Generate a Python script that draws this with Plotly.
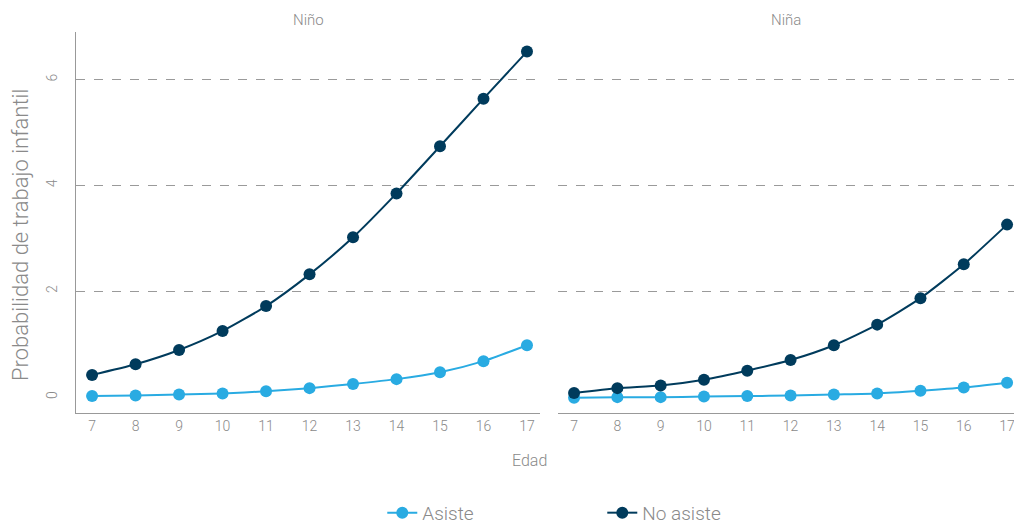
import plotly.graph_objects as go

edad = [7, 8, 9, 10, 11, 12, 13, 14, 15, 16, 17]

nino_asiste = [0.02, 0.03, 0.05, 0.07, 0.11, 0.17, 0.25, 0.34, 0.47, 0.68, 0.98]
nino_no_asiste = [0.42, 0.62, 0.89, 1.25, 1.72, 2.32, 3.02, 3.85, 4.74, 5.64, 6.53]
nina_asiste = [-0.01, 0.0, 0.0, 0.01, 0.02, 0.03, 0.05, 0.07, 0.12, 0.18, 0.27]
nina_no_asiste = [0.08, 0.17, 0.22, 0.33, 0.50, 0.70, 0.98, 1.37, 1.87, 2.51, 3.26]

y_ticks = [0, 2, 4, 6]
grid_ticks = [2, 4, 6]

COLORS = {"asiste": "#29ABE2", "no_asiste": "#003B5C"}
GRAY = "#8a8a8a"
FONT = "Roboto"

fig = go.Figure()

series = [
    ("Asiste", nino_asiste, nina_asiste, COLORS["asiste"]),
    ("No asiste", nino_no_asiste, nina_no_asiste, COLORS["no_asiste"]),
]
for name, y_nino, y_nina, color in series:
    for i, (ys, xa, ya) in enumerate([(y_nino, "x", "y"), (y_nina, "x2", "y2")]):
        fig.add_trace(
            go.Scatter(
                x=edad,
                y=ys,
                mode="lines+markers",
                name=name,
                legendgroup=name,
                showlegend=(i == 0),
                line=dict(color=color, width=2, shape="spline", smoothing=0.6),
                marker=dict(color=color, size=12),
                cliponaxis=False,
                xaxis=xa,
                yaxis=ya,
            )
        )

xaxis_common = dict(
    tickvals=edad,
    showgrid=False,
    zeroline=False,
    showline=True,
    linecolor="#999999",
    linewidth=1,
    ticks="",
    ticklabeloverflow="allow",
    tickfont=dict(family=FONT, size=14, color=GRAY, weight=300),
    automargin=False,
)
yaxis_common = dict(
    range=[-0.3, 6.9],
    tickvals=y_ticks,
    tickangle=-90,
    showgrid=False,
    zeroline=False,
    ticks="",
    tickfont=dict(family=FONT, size=14, color=GRAY, weight=300),
    automargin=False,
)
# dashed grid lines only at 2, 4, 6 (no line at 0)
grid_common = dict(
    range=[-0.3, 6.9],
    tickvals=grid_ticks,
    showticklabels=False,
    showgrid=True,
    gridcolor="#9a9a9a",
    griddash="dash",
    gridwidth=1,
    zeroline=False,
    ticks="",
    automargin=False,
)

fig.update_layout(
    width=1014,
    height=524,
    margin=dict(l=76, r=0, t=32, b=111, autoexpand=False),
    plot_bgcolor="white",
    paper_bgcolor="white",
    xaxis=dict(xaxis_common, domain=[0, 0.4947], range=[6.63, 17.3], anchor="y"),
    xaxis2=dict(xaxis_common, domain=[0.5139, 1], range=[6.63, 17.16], anchor="y2"),
    yaxis=dict(
        yaxis_common,
        anchor="x",
        showline=True,
        linecolor="#999999",
        linewidth=1,
        ticklabelstandoff=12,
    ),
    yaxis2=dict(yaxis_common, anchor="x2", showline=False, showticklabels=False),
    yaxis3=dict(grid_common, overlaying="y", anchor="x"),
    yaxis4=dict(grid_common, overlaying="y2", anchor="x2"),
    legend=dict(
        orientation="h",
        x=0.377,
        xanchor="left",
        xref="container",
        y=-0.262,
        yanchor="middle",
        yref="paper",
        font=dict(family=FONT, size=19, color=GRAY, weight=300),
        entrywidth=175,
        traceorder="normal",
    ),
    annotations=[
        dict(text="Probabilidad de trabajo infantil", x=-0.0597, y=0.467,
             xref="paper", yref="paper", xanchor="center", yanchor="middle",
             textangle=-90, showarrow=False,
             font=dict(family=FONT, size=22, color=GRAY, weight=300)),
        dict(text="Niño", x=0.2474, y=1.0, xref="paper", yref="paper",
             xanchor="center", yanchor="bottom", yshift=1, showarrow=False,
             font=dict(family=FONT, size=15, color=GRAY, weight=300)),
        dict(text="Niña", x=0.757, y=1.0, xref="paper", yref="paper",
             xanchor="center", yanchor="bottom", yshift=1, showarrow=False,
             font=dict(family=FONT, size=15, color=GRAY, weight=300)),
        dict(text="Edad", x=0.484, y=0, xref="paper", yref="paper",
             xanchor="center", yanchor="top", yshift=-36, showarrow=False,
             font=dict(family=FONT, size=16, color=GRAY, weight=300)),
    ],
)

# invisible traces so the grid overlay axes are drawn
for ya, xa in [("y3", "x"), ("y4", "x2")]:
    fig.add_trace(go.Scatter(x=[], y=[], xaxis=xa, yaxis=ya, showlegend=False,
                             hoverinfo="skip"))

# drop the default 8px body margin so the figure fills the window exactly
fig.write_html(
    "out.html",
    config={"displayModeBar": False},
    post_script="document.body.style.margin = '0';",
)
